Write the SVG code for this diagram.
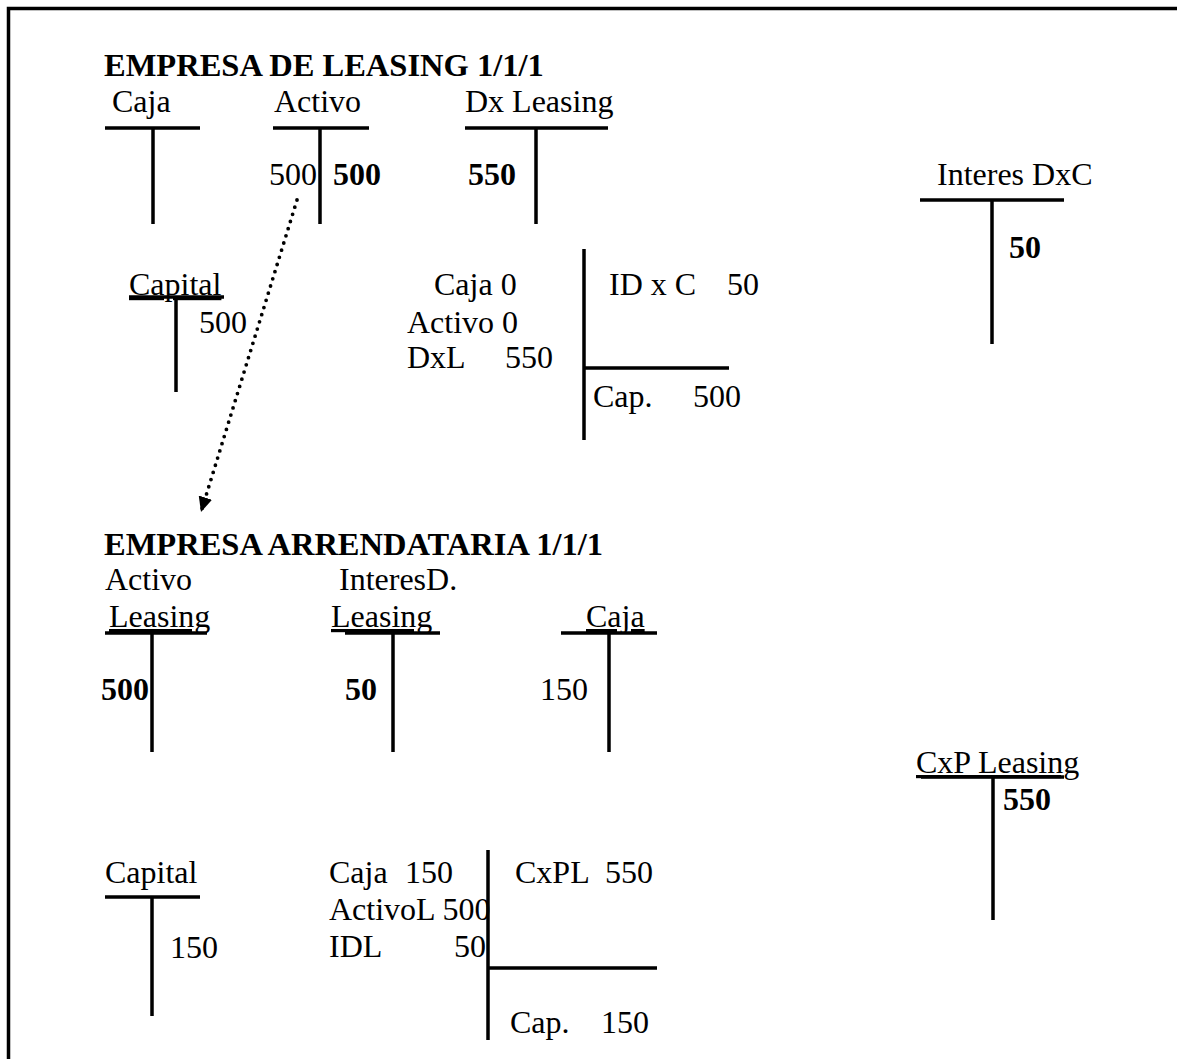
<svg xmlns="http://www.w3.org/2000/svg" width="1177" height="1059" viewBox="0 0 1177 1059">
<style>
text{font-family:"Liberation Serif","Times New Roman",serif;font-size:32px;fill:#000}
.b{font-weight:bold}
.h{font-weight:bold;font-size:32.5px}
.u{text-decoration:underline}
.ln{stroke:#000;stroke-width:3.5;fill:none}
</style>
<defs>
<marker id="ah" markerUnits="userSpaceOnUse" markerWidth="16" markerHeight="16" refX="15" refY="7" orient="auto">
<path d="M0,0 L15,7 L0,14 z" fill="#000"/>
</marker>
</defs>
<rect width="1177" height="1059" fill="#fff"/>
<path class="ln" d="M8.5,1059 V8.5 H1177"/>

<text class="h" x="104" y="76">EMPRESA DE LEASING 1/1/1</text>
<text class="h" x="104" y="555">EMPRESA ARRENDATARIA 1/1/1</text>

<g id="caja1">
<text x="112" y="112">Caja</text>
<path class="ln" d="M105,128 H200 M153,128 V224"/>
</g>
<g id="activo1">
<text x="269" y="185">500</text>
<text x="274" y="112">Activo</text>
<text class="b" x="333" y="185">500</text>
<path class="ln" d="M273,128 H369 M320,128 V224"/>
</g>
<g id="dxleasing1">
<text x="465" y="112">Dx Leasing</text>
<text class="b" x="468" y="185">550</text>
<path class="ln" d="M465,128 H608 M536,128 V224"/>
</g>
<g id="interesdxc1">
<text x="937" y="185">Interes DxC</text>
<text class="b" x="1009" y="258">50</text>
<path class="ln" d="M920,200 H1064 M992,200 V344"/>
</g>
<g id="capital1">
<text class="u" x="129" y="295">Capital</text>
<text x="199" y="333">500</text>
<path class="ln" d="M129,297 H224 M176,297 V392"/>
</g>
<g id="balance1">
<text x="434" y="295">Caja 0</text>
<text x="407" y="333">Activo 0</text>
<text x="407" y="368">DxL</text>
<text x="505" y="368">550</text>
<text x="609" y="295">ID x C</text>
<text x="727" y="295">50</text>
<text x="593" y="407">Cap.</text>
<text x="693" y="407">500</text>
<path class="ln" d="M584,249 V440 M584,368 H729"/>
</g>

<g id="activoleasing2">
<text x="105" y="590">Activo</text>
<text class="u" x="109" y="627">Leasing</text>
<text class="b" x="101" y="700">500</text>
<path class="ln" d="M105,633 H207 M152,633 V752"/>
</g>
<g id="interesdl2">
<text x="339" y="590">InteresD.</text>
<text class="u" x="331" y="627">Leasing</text>
<text class="b" x="345" y="700">50</text>
<path class="ln" d="M345,633 H440 M393,633 V752"/>
</g>
<g id="caja2">
<text class="u" x="586" y="627">Caja</text>
<text x="540" y="700">150</text>
<path class="ln" d="M561,633 H657 M609,633 V752"/>
</g>
<g id="cxpleasing2">
<text class="u" x="916" y="773">CxP Leasing</text>
<text class="b" x="1003" y="810">550</text>
<path class="ln" d="M921,777 H1064 M993,777 V920"/>
</g>
<g id="capital2">
<text x="105" y="883">Capital</text>
<text x="170" y="958">150</text>
<path class="ln" d="M105,897 H200 M152,897 V1016"/>
</g>
<g id="balance2">
<text x="329" y="883">Caja</text>
<text x="405" y="883">150</text>
<text x="329" y="920">ActivoL 500</text>
<text x="329" y="957">IDL</text>
<text x="454" y="957">50</text>
<text x="515" y="883">CxPL</text>
<text x="605" y="883">550</text>
<text x="510" y="1033">Cap.</text>
<text x="601" y="1033">150</text>
<path class="ln" d="M488,850 V1040 M488,968 H657"/>
</g>

<g id="connectors">
<line x1="297" y1="200" x2="201" y2="512" stroke="#000" stroke-width="3.8" stroke-linecap="round" stroke-dasharray="0 7.5" marker-end="url(#ah)"/>
</g>
</svg>
